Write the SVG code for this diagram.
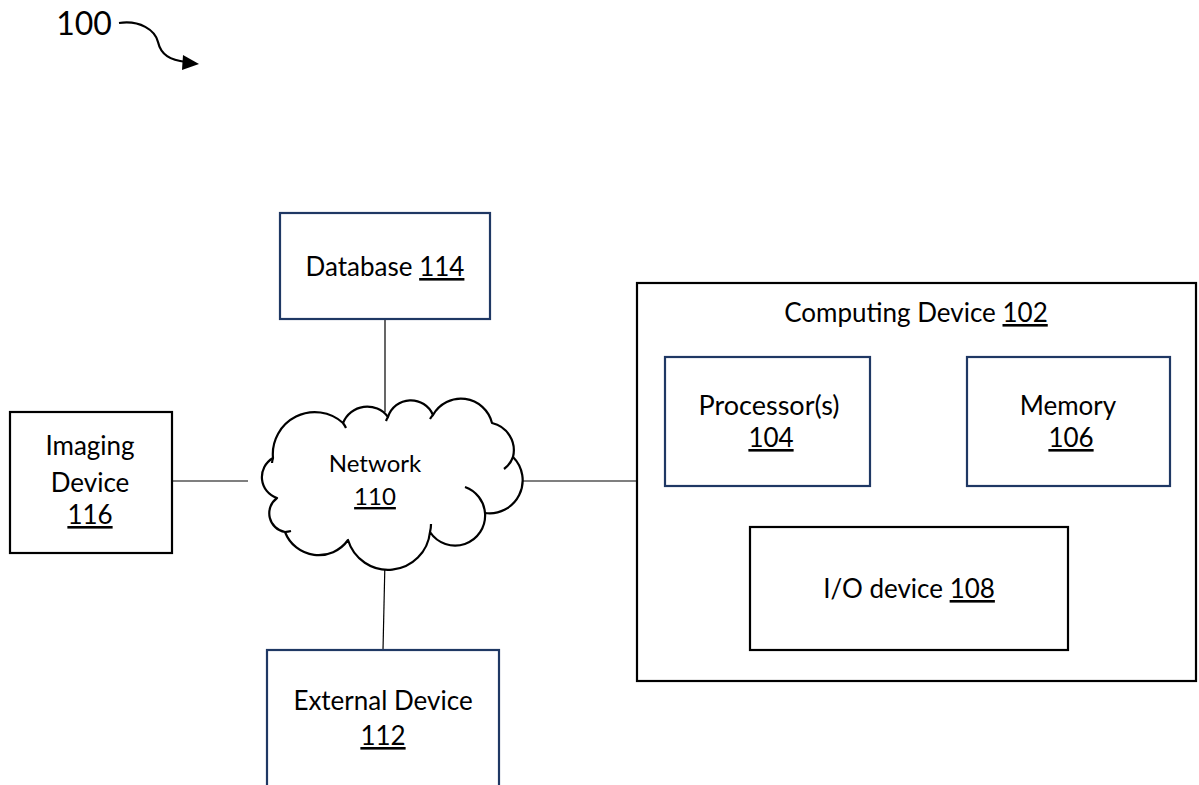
<svg xmlns="http://www.w3.org/2000/svg" width="1199" height="785" viewBox="0 0 1199 785">
<defs>
<style>
text{font-family:Lato,"Open Sans","Liberation Sans",sans-serif;fill:#000;font-size:26px;text-anchor:middle}
.u{text-decoration:underline}
.navy{fill:#fff;stroke:#1f3864;stroke-width:2.2}
.blk{fill:#fff;stroke:#000;stroke-width:2.2}
.ln{stroke:#000;stroke-width:1.2;fill:none}
.cloud{fill:#fff;stroke:#000;stroke-width:2.2;stroke-linejoin:round}
</style>
</defs>
<rect width="1199" height="785" fill="#fff"/>
<g id="label-100">
<text x="84" y="35" style="font-size:32px">100</text>
<path d="M119 23 C140 20 155 30 158 42 C161 55 170 60 186 62" fill="none" stroke="#000" stroke-width="2.2"/>
<polygon points="199,64 183,55 182,70" fill="#000"/>
</g>
<g id="connectors">
<line class="ln" x1="385" y1="319" x2="385" y2="412"/>
<line class="ln" x1="172" y1="481" x2="248" y2="481"/>
<line class="ln" x1="521" y1="481" x2="637" y2="481"/>
<line class="ln" x1="385" y1="560" x2="383" y2="650"/>
</g>
<g id="database">
<rect class="navy" x="280" y="213" width="210" height="106"/>
<text x="385" y="276">Database <tspan class="u">114</tspan></text>
</g>
<g id="imaging">
<rect class="blk" x="10" y="412" width="162" height="141"/>
<text x="90" y="455">Imaging</text>
<text x="90" y="492">Device</text>
<text x="90" y="524"><tspan class="u">116</tspan></text>
</g>
<g id="network">
<path class="cloud" d="M273 458 A42 42 0 0 1 343 423 A26 26 0 0 1 388 417 A24 24 0 0 1 433 415 A32 32 0 0 1 492 423 A28 28 0 0 1 513 457 A33 33 0 0 1 485 513 A30 30 0 0 1 430 532 A42 42 0 0 1 348 540 A36 36 0 0 1 285 532 A19 19 0 0 1 277 498 A22 22 0 0 1 273 458 Z"/>
<path d="M465 487 A30 30 0 0 1 485 513 M513 457 A26 26 0 0 1 504 469 M273 458 A28 28 0 0 0 272 463 M343 423 A30 30 0 0 1 346 428 M388 417 A26 26 0 0 0 386 421 M433 415 A24 24 0 0 0 430 419 M430 532 A30 30 0 0 0 431 524 M285 532 A36 36 0 0 0 291 531" fill="none" stroke="#000" stroke-width="2.2"/>
<text x="375" y="472" style="font-size:24px">Network</text>
<text x="375" y="505" style="font-size:24px"><tspan class="u">110</tspan></text>
</g>
<g id="external">
<rect class="navy" x="267" y="650" width="232" height="150"/>
<text x="383" y="710">External Device</text>
<text x="383" y="745"><tspan class="u">112</tspan></text>
</g>
<g id="computing">
<rect class="blk" x="637" y="283" width="559" height="398"/>
<text x="916" y="322">Computing Device <tspan class="u">102</tspan></text>
</g>
<g id="processor">
<rect class="navy" x="665" y="357" width="205" height="129"/>
<text x="769" y="415" style="font-size:27px">Processor(s)</text>
<text x="771" y="447"><tspan class="u">104</tspan></text>
</g>
<g id="memory">
<rect class="navy" x="967" y="357" width="203" height="129"/>
<text x="1068" y="415">Memory</text>
<text x="1071" y="447"><tspan class="u">106</tspan></text>
</g>
<g id="io">
<rect class="blk" x="750" y="527" width="318" height="123"/>
<text x="909" y="598">I/O device <tspan class="u">108</tspan></text>
</g>
</svg>
